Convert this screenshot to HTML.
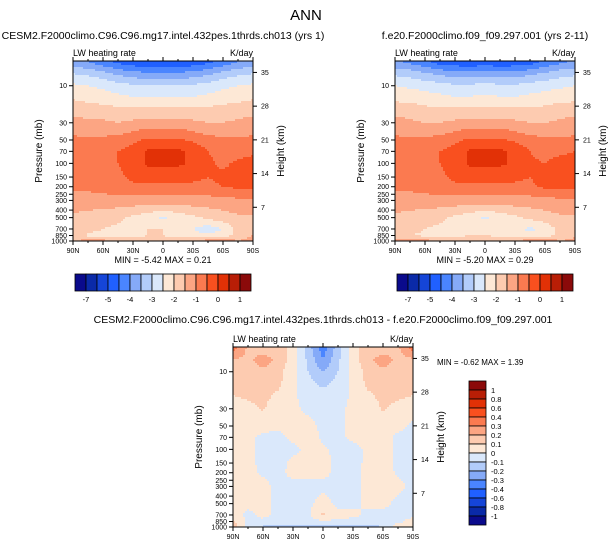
<!DOCTYPE html>
<html><head><meta charset="utf-8"><style>
body{margin:0;background:#fff;width:612px;height:547px;overflow:hidden;font-family:"Liberation Sans",sans-serif}
svg{display:block}
</style></head><body>
<svg id="fig" width="612" height="547" xmlns="http://www.w3.org/2000/svg" font-family="Liberation Sans, sans-serif">
<text x="306" y="20" font-size="15" text-anchor="middle">ANN</text>
<text x="163" y="39" font-size="10.5" text-anchor="middle">CESM2.F2000climo.C96.C96.mg17.intel.432pes.1thrds.ch013 (yrs 1)</text>
<text x="485" y="39" font-size="10.5" text-anchor="middle">f.e20.F2000climo.f09_f09.297.001 (yrs 2-11)</text>
<text x="323" y="323" font-size="10.5" text-anchor="middle">CESM2.F2000climo.C96.C96.mg17.intel.432pes.1thrds.ch013 - f.e20.F2000climo.f09_f09.297.001</text>
<g id="layer"></g>
</svg>
<script>
const pressures=[5,7,10,15,20,30,50,70,100,150,200,300,500,700,850,1000];
const latLabels=["90N","60N","30N","0","30S","60S","90S"];
const pTicks=[10,30,50,70,100,150,200,250,300,400,500,700,850,1000];
const hTicks=[35,28,21,14,7];
const colors=["#0a0a8c","#0a2aa8","#1545d8","#2060ff","#4a85ff","#85aaf8","#b2ccfa","#dae8fb","#fde8d6","#fdcbb0","#fca583","#fb7a50","#f9501f","#e23106","#b81e06","#8b0a0a"];
const levelsAbs=[-7,-6,-5,-4.5,-4,-3.5,-3,-2.5,-2,-1.5,-1,-0.5,0,0.5,1];
const levelLabelsAbs=["-7","","-5","","-4","","-3","","-2","","-1","","0","","1"];
const levelsDiff=[-1,-0.8,-0.6,-0.4,-0.3,-0.2,-0.1,0,0.1,0.2,0.3,0.4,0.6,0.8,1];
const dataModel1=[
[-3.8,-4.0,-4.3,-4.6,-4.8,-4.9,-4.9,-4.9,-4.8,-4.6,-4.3,-4.0,-3.8],
[-3.0,-3.1,-3.3,-3.6,-3.8,-3.9,-3.9,-3.9,-3.8,-3.6,-3.3,-3.1,-3.0],
[-2.4,-2.5,-2.6,-2.8,-2.9,-3.0,-3.0,-3.0,-2.9,-2.8,-2.6,-2.5,-2.4],
[-2.0,-2.1,-2.2,-2.3,-2.4,-2.4,-2.4,-2.4,-2.4,-2.3,-2.2,-2.1,-2.0],
[-1.7,-1.8,-1.8,-1.9,-1.9,-1.9,-1.9,-1.9,-1.9,-1.9,-1.8,-1.8,-1.7],
[-1.3,-1.4,-1.4,-1.5,-1.4,-1.3,-1.3,-1.3,-1.4,-1.5,-1.5,-1.4,-1.3],
[-0.9,-0.9,-0.9,-0.8,-0.6,-0.4,-0.4,-0.4,-0.6,-0.8,-0.9,-0.9,-0.9],
[-0.8,-0.8,-0.7,-0.5,-0.3,0.1,0.1,0.1,-0.1,-0.5,-0.7,-0.7,-0.6],
[-0.8,-0.8,-0.7,-0.5,-0.3,0.1,0.1,0.1,-0.1,-0.4,-0.6,-0.4,-0.3],
[-0.8,-0.8,-0.7,-0.6,-0.4,-0.3,-0.3,-0.3,-0.4,-0.5,-0.4,-0.3,-0.3],
[-0.9,-0.9,-0.8,-0.7,-0.6,-0.6,-0.6,-0.6,-0.6,-0.6,-0.5,-0.4,-0.4],
[-1.2,-1.2,-1.2,-1.2,-1.2,-1.2,-1.2,-1.2,-1.2,-1.2,-1.2,-1.1,-1.1],
[-1.6,-1.7,-1.8,-1.9,-2.1,-2.3,-2.6,-2.3,-2.1,-1.9,-1.7,-1.6,-1.6],
[-1.7,-1.8,-2.0,-2.1,-2.1,-2.0,-2.0,-2.1,-2.5,-2.8,-2.5,-1.8,-1.6],
[-1.8,-2.1,-2.2,-2.2,-2.1,-2.0,-2.0,-2.1,-2.3,-2.4,-2.2,-1.9,-1.5],
[-1.6,-1.2,-1.3,-1.6,-1.8,-1.8,-1.8,-1.8,-1.6,-1.2,-1.0,-1.5,-1.2]];
const dataModel2=[
[-3.9,-4.1,-4.4,-4.7,-4.8,-4.9,-4.8,-4.9,-4.8,-4.7,-4.4,-4.1,-3.9],
[-3.1,-3.2,-3.4,-3.6,-3.8,-3.8,-3.7,-3.8,-3.8,-3.6,-3.4,-3.2,-3.1],
[-2.5,-2.6,-2.7,-2.8,-2.9,-2.9,-2.8,-2.9,-2.9,-2.8,-2.7,-2.6,-2.5],
[-2.1,-2.1,-2.2,-2.3,-2.4,-2.4,-2.3,-2.4,-2.4,-2.3,-2.2,-2.1,-2.1],
[-1.7,-1.8,-1.9,-1.9,-1.9,-1.9,-1.9,-1.9,-1.9,-1.9,-1.9,-1.8,-1.7],
[-1.3,-1.4,-1.5,-1.5,-1.4,-1.3,-1.3,-1.3,-1.4,-1.5,-1.5,-1.4,-1.3],
[-0.9,-0.9,-0.9,-0.8,-0.6,-0.4,-0.4,-0.4,-0.6,-0.8,-0.9,-0.9,-0.9],
[-0.8,-0.8,-0.7,-0.5,-0.3,0.1,0.1,0.1,-0.1,-0.5,-0.7,-0.6,-0.5],
[-0.8,-0.8,-0.7,-0.5,-0.3,0.1,0.1,0.1,-0.1,-0.4,-0.5,-0.3,-0.3],
[-0.8,-0.8,-0.7,-0.6,-0.4,-0.3,-0.3,-0.3,-0.4,-0.5,-0.3,-0.3,-0.3],
[-0.9,-0.9,-0.8,-0.7,-0.6,-0.6,-0.6,-0.6,-0.6,-0.6,-0.4,-0.4,-0.4],
[-1.2,-1.2,-1.2,-1.2,-1.2,-1.2,-1.2,-1.2,-1.2,-1.2,-1.2,-1.1,-1.1],
[-1.6,-1.7,-1.8,-1.9,-2.1,-2.3,-2.6,-2.3,-2.1,-1.9,-1.7,-1.6,-1.6],
[-1.7,-1.8,-2.0,-2.1,-2.1,-2.1,-2.2,-2.1,-2.4,-2.6,-2.4,-1.8,-1.6],
[-1.7,-2.0,-2.1,-2.2,-2.1,-2.0,-2.0,-2.1,-2.2,-2.3,-2.2,-1.9,-1.6],
[-1.4,-1.2,-1.3,-1.5,-1.6,-1.6,-1.6,-1.6,-1.5,-1.2,-1.0,-1.5,-1.3]];
const dataDiff=[
[0.35,0.18,0.14,0.16,0.05,-0.15,-0.35,-0.15,0.05,0.16,0.14,0.18,0.35],
[0.2,0.17,0.25,0.17,0.05,-0.12,-0.3,-0.12,0.05,0.17,0.25,0.17,0.18],
[0.15,0.16,0.18,0.14,0.03,-0.1,-0.2,-0.1,0.03,0.14,0.18,0.16,0.15],
[0.13,0.14,0.15,0.12,0.02,-0.05,-0.12,-0.05,0.02,0.12,0.15,0.14,0.13],
[0.1,0.12,0.13,0.08,0.01,-0.03,-0.05,-0.03,0.01,0.08,0.13,0.12,0.1],
[0.04,0.07,0.11,0.04,0.02,-0.02,-0.03,-0.02,0.02,0.04,0.11,0.07,0.04],
[0.03,0.03,0.03,0.02,0.03,0.03,-0.02,-0.02,0.02,0.03,0.03,0.03,-0.02],
[0.02,0.02,-0.02,-0.03,0.02,0.03,-0.01,-0.02,0.02,0.03,0.03,-0.02,-0.03],
[0.02,0.02,-0.02,-0.03,-0.02,0.02,0.01,-0.02,-0.03,0.02,0.03,-0.02,-0.03],
[0.02,0.02,-0.02,-0.03,0.02,0.03,0.03,-0.02,-0.03,0.02,0.03,-0.02,-0.03],
[0.03,0.02,-0.01,-0.02,0.02,0.02,0.02,-0.02,-0.02,0.02,0.03,-0.01,-0.02],
[0.03,0.03,0.02,-0.02,-0.02,-0.02,-0.02,-0.02,-0.02,0.02,0.03,0.02,-0.02],
[0.02,0.02,0.03,-0.02,-0.02,-0.02,0.03,-0.02,-0.02,0.02,0.02,-0.02,-0.02],
[0.03,-0.02,0.02,-0.02,-0.02,-0.02,0.12,0.03,0.02,-0.02,-0.02,-0.02,-0.02],
[0.12,-0.02,-0.02,-0.03,-0.03,-0.03,-0.02,-0.02,-0.03,-0.03,-0.03,-0.02,0.03],
[0.15,-0.05,-0.12,-0.15,-0.15,-0.15,-0.15,-0.15,-0.15,-0.15,-0.1,0.05,0.1]];

const NS="http://www.w3.org/2000/svg";
const layer=document.getElementById('layer');
function mk(tag,attrs,parent){const e=document.createElementNS(NS,tag);for(const k in attrs)e.setAttribute(k,attrs[k]);(parent||layer).appendChild(e);return e;}
function txt(x,y,s,size,anchor,parent,extra){const t=mk('text',Object.assign({x:x,y:y,'font-size':size,'text-anchor':anchor||'start'},extra||{}),parent);t.textContent=s;return t;}

const W=180,H=180,PTOP=4.8,PBOT=1000;
function yOfP(p,y0){return y0+H*(Math.log10(p)-Math.log10(PTOP))/(Math.log10(PBOT)-Math.log10(PTOP));}
function xOfLat(i,x0,n){return x0+W*i/(n-1);}
function levelIndex(v,levels){let k=0;for(const b of levels)if(v>=b)k++;return k;}
function sample(data,fx,lp){
  const nc=data[0].length;const c=fx*(nc-1);const c0=Math.min(nc-2,Math.floor(c));const tc=c-c0;
  const lps=pressures.map(p=>Math.log10(p));
  let r0=0;if(lp<=lps[0]){r0=0;}else if(lp>=lps[lps.length-1]){r0=lps.length-2;}else{while(lps[r0+1]<lp)r0++;}
  let tr=(lp-lps[r0])/(lps[r0+1]-lps[r0]);tr=Math.max(0,Math.min(1,tr));
  const a=data[r0][c0]*(1-tc)+data[r0][c0+1]*tc;const b=data[r0+1][c0]*(1-tc)+data[r0+1][c0+1]*tc;
  return a*(1-tr)+b*tr;
}
function drawPanel(name,data,levels,x0,y0){
  const g=mk('g',{});
  
  
  const step=2;
  for(let py=0;py<H;py+=step){
    const yc=y0+py+step/2;
    const lp=Math.log10(PTOP)+(yc-y0)/H*(Math.log10(PBOT)-Math.log10(PTOP));
    let runStart=0,runCol=null;
    for(let px=0;px<=W;px+=step){
      let col=null;
      if(px<W){const v=sample(data,(px+step/2)/W,lp);col=colors[levelIndex(v,levels)];}
      if(col!==runCol){
        if(runCol!==null){
          const r=mk('rect',{x:x0+runStart,y:y0+py,width:px-runStart,height:step+0.4,fill:runCol},g);
          
          
        }
        runStart=px;runCol=col;
      }
    }
  }
  const frame=mk('rect',{x:x0,y:y0,width:W,height:H,fill:'none',stroke:'#000','stroke-width':1});
  
  
  pTicks.forEach(p=>{const y=yOfP(p,y0);mk('line',{x1:x0-4,x2:x0,y1:y,y2:y,stroke:'#000'});
    const t=txt(x0-6,y+2.5,String(p),7,'end');});
  hTicks.forEach(h=>{const p=1000*Math.exp(-h/7);const y=yOfP(p,y0);mk('line',{x1:x0+W,x2:x0+W+4,y1:y,y2:y,stroke:'#000'});
    const t=txt(x0+W+8,y+2.5,String(h),7,'start');});
  latLabels.forEach((s,i)=>{const x=xOfLat(i,x0,latLabels.length);mk('line',{x1:x,x2:x,y1:y0+H,y2:y0+H+4,stroke:'#000'});mk('line',{x1:x,x2:x,y1:y0,y2:y0-4,stroke:'#000'});
    const t=txt(x,y0+H+12,s,7,'middle');});
  for(let i=0;i<=12;i++){const x=x0+W*i/12;mk('line',{x1:x,x2:x,y1:y0,y2:y0-2,stroke:'#000'});mk('line',{x1:x,x2:x,y1:y0+H,y2:y0+H+2,stroke:'#000'});}
  let t=txt(x0,y0-5,'LW heating rate',9,'start');
  t=txt(x0+W,y0-5,'K/day',9,'end');
  t=txt(x0-31,y0+H/2,'Pressure (mb)',10,'middle',null,{transform:`rotate(-90 ${x0-31} ${y0+H/2})`});
  t=txt(x0+W+31,y0+H/2,'Height (km)',10,'middle',null,{transform:`rotate(-90 ${x0+W+31} ${y0+H/2})`});
}
function hColorbar(x0,y0,w,h,labels){
  const g=mk('g',{});
  const bw=w/colors.length;
  colors.forEach((c,i)=>{const r=mk('rect',{x:x0+i*bw,y:y0,width:bw,height:h,fill:c,stroke:'#000','stroke-width':0.8},g);});
  labels.forEach((s,i)=>{if(!s)return;const t=txt(x0+(i+1)*bw,y0+h+11,s,7.5,'middle',g);});
}
function vColorbar(x0,y0,w,h,levels){
  const g=mk('g',{});
  const bh=h/colors.length;
  colors.slice().reverse().forEach((c,i)=>{const r=mk('rect',{x:x0,y:y0+i*bh,width:w,height:bh,fill:c,stroke:'#000','stroke-width':0.8},g);});
  levels.slice().reverse().forEach((v,i)=>{const t=txt(x0+w+5,y0+(i+1)*bh+3,String(v),7.5,'start',g);});
}
drawPanel('left',dataModel1,levelsAbs,73,61);
drawPanel('right',dataModel2,levelsAbs,395,61);
drawPanel('diff',dataDiff,levelsDiff,233,347);
let t=txt(163,263,'MIN =  -5.42  MAX =   0.21',9,'middle');
t=txt(485,263,'MIN =  -5.20  MAX =   0.29',9,'middle');
t=txt(437,365,'MIN =  -0.62  MAX =   1.39',8,'start');
hColorbar(75,274,176,17,levelLabelsAbs);
hColorbar(397,274,176,17,levelLabelsAbs);
vColorbar(469,381,17,144,levelsDiff);
</script>
</body></html>
